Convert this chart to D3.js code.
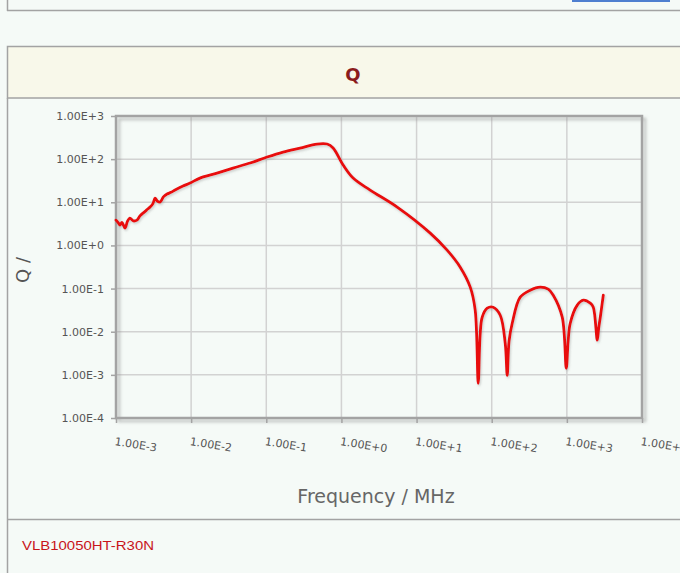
<!DOCTYPE html>
<html>
<head>
<meta charset="utf-8">
<script src="https://cdn.jsdelivr.net/npm/d3@7"></script>
<style>
    html, body { margin: 0; padding: 0; background: #f5faf7; }
    svg { display: block; }
</style>
</head>
<body>
<svg id="chart" width="680" height="573"></svg>
<script>
// Chart title, part name and axis titles
const chartTitle = "Q";
const partName = "VLB10050HT-R30N";
const xTitle = "Frequency / MHz";
const yTitle = "Q /";

// Decade ticks on both axes
const xTickValues = [1e-3, 1e-2, 1e-1, 1e0, 1e1, 1e2, 1e3, 1e4];
const xTickLabels = ["1.00E-3", "1.00E-2", "1.00E-1", "1.00E+0", "1.00E+1", "1.00E+2", "1.00E+3", "1.00E+4"];
const yTickValues = [1e3, 1e2, 1e1, 1e0, 1e-1, 1e-2, 1e-3, 1e-4];
const yTickLabels = ["1.00E+3", "1.00E+2", "1.00E+1", "1.00E+0", "1.00E-1", "1.00E-2", "1.00E-3", "1.00E-4"];

// Measured curve: frequency (MHz) and Q
const freq = [
    0.00100, 0.00108, 0.00113, 0.00120, 0.00132, 0.00142, 0.00153, 0.00170, 0.00190, 0.00210,
    0.00229, 0.00255, 0.00284, 0.00310, 0.00331, 0.00355, 0.00385, 0.00430, 0.00478, 0.00540,
    0.00611, 0.00780, 0.00967, 0.0131, 0.0221, 0.0361, 0.0609, 0.1025, 0.1675, 0.282,
    0.474, 0.645, 0.775, 1.054, 1.43, 2.41, 5.52, 15.2, 25.5, 38.1,
    51.8, 60.3, 66.1, 70.0, 74.7, 87.1, 104.7, 129.8, 151.3, 160.8, 170.0, 187.5,
    239.4, 326, 442, 565, 659, 868, 982, 1040, 1110, 1376, 1653,
    2050, 2249, 2541, 2650, 2786, 3055
];
const qValues = [
    3.86, 3.30, 2.96, 3.40, 2.52, 3.60, 4.30, 3.70, 3.86, 4.90,
    5.61, 6.60, 7.74, 9.30, 12.5, 10.6, 10.1, 13.5, 15.5, 17.0,
    19.2, 23.8, 27.9, 36.4, 47.6, 62.2, 81.3, 112, 146, 181,
    224, 224, 181, 73, 36.4, 19.2, 7.74, 1.93, 0.778, 0.314,
    0.108, 0.0315, 0.000638, 0.0080, 0.0217, 0.0351, 0.0370, 0.0241, 0.0054, 0.00098, 0.0060, 0.0157,
    0.0631, 0.0918, 0.108, 0.0968, 0.0703, 0.0217, 0.00142, 0.0060, 0.0157, 0.0412, 0.0538,
    0.0458, 0.0370, 0.00635, 0.0120, 0.0217, 0.0703
];

const svg = d3.select("#chart");

// Plot frame
const plot = { left: 116, top: 116, right: 642, bottom: 418 };

const x = d3.scaleLog().domain([1e-3, 1e4]).range([plot.left, plot.right]);
const y = d3.scaleLog().domain([1e-4, 1e3]).range([plot.bottom, plot.top]);

const borderColor = "#a3a3a3";
const font = "'DejaVu Sans', Verdana, sans-serif";

// Shadows
const defs = svg.append("defs");
defs.append("filter").attr("id", "frameShadow")
    .attr("x", "-5%").attr("y", "-5%").attr("width", "115%").attr("height", "115%")
    .append("feDropShadow")
    .attr("dx", 3).attr("dy", 3).attr("stdDeviation", 1.5)
    .attr("flood-color", "#888").attr("flood-opacity", 0.5);
defs.append("filter").attr("id", "lineShadow")
    .attr("x", "-5%").attr("y", "-5%").attr("width", "115%").attr("height", "115%")
    .append("feDropShadow")
    .attr("dx", 1).attr("dy", 1.5).attr("stdDeviation", 1)
    .attr("flood-color", "#777").attr("flood-opacity", 0.35);

// Page frame: previous panel, header band, chart panel, footer
svg.append("line").attr("x1", 7.5).attr("x2", 7.5).attr("y1", 0).attr("y2", 11)
    .attr("stroke", borderColor).attr("stroke-width", 1.5);
svg.append("line").attr("x1", 7).attr("x2", 680).attr("y1", 10.5).attr("y2", 10.5)
    .attr("stroke", borderColor).attr("stroke-width", 1.5);
svg.append("rect").attr("x", 572).attr("y", 0).attr("width", 98).attr("height", 2)
    .attr("fill", "#4f7fd0");

svg.append("rect").attr("x", 7.5).attr("y", 46.5).attr("width", 680).attr("height", 51.5)
    .attr("fill", "#f8f8ea").attr("stroke", borderColor).attr("stroke-width", 1.5);
svg.append("text").attr("x", 353).attr("y", 81)
    .attr("text-anchor", "middle").attr("font-family", font)
    .attr("font-size", 18).attr("font-weight", 600).attr("fill", "#8b1c1c")
    .text(chartTitle);

svg.append("line").attr("x1", 7.5).attr("x2", 7.5).attr("y1", 98).attr("y2", 573)
    .attr("stroke", borderColor).attr("stroke-width", 1.5);
svg.append("line").attr("x1", 7).attr("x2", 680).attr("y1", 519.5).attr("y2", 519.5)
    .attr("stroke", borderColor).attr("stroke-width", 1.5);
svg.append("text").attr("x", 22).attr("y", 550)
    .attr("font-family", "'Liberation Sans', Arial, sans-serif")
    .attr("font-size", 13.5).attr("fill", "#c8141a")
    .attr("textLength", 132).attr("lengthAdjust", "spacingAndGlyphs")
    .text(partName);

// Grid
const grid = svg.append("g");
grid.selectAll(".vgrid").data(xTickValues.slice(1, -1)).join("line")
    .attr("x1", d => x(d)).attr("x2", d => x(d))
    .attr("y1", plot.top).attr("y2", plot.bottom)
    .attr("stroke", "#d2d2d2").attr("stroke-width", 1.5);
grid.selectAll(".hgrid").data(yTickValues.slice(1, -1)).join("line")
    .attr("x1", plot.left).attr("x2", plot.right)
    .attr("y1", d => y(d)).attr("y2", d => y(d))
    .attr("stroke", "#d2d2d2").attr("stroke-width", 1.5);

// Frame with drop shadow
svg.append("rect")
    .attr("x", plot.left).attr("y", plot.top)
    .attr("width", plot.right - plot.left).attr("height", plot.bottom - plot.top)
    .attr("fill", "none").attr("stroke", borderColor).attr("stroke-width", 2.5)
    .attr("filter", "url(#frameShadow)");

// Axes
const yAxis = svg.append("g")
    .attr("transform", "translate(" + plot.left + ",0)")
    .call(d3.axisLeft(y).tickValues(yTickValues)
        .tickFormat((d, i) => yTickLabels[i]).tickSize(5).tickPadding(7));
yAxis.select(".domain").remove();
yAxis.selectAll(".tick line").attr("stroke", borderColor).attr("stroke-width", 1.5);
yAxis.selectAll(".tick text")
    .attr("font-family", font).attr("font-size", 11).attr("fill", "#555");

const xAxis = svg.append("g")
    .attr("transform", "translate(0," + plot.bottom + ")")
    .call(d3.axisBottom(x).tickValues(xTickValues)
        .tickFormat((d, i) => xTickLabels[i]).tickSize(5));
xAxis.select(".domain").remove();
xAxis.selectAll(".tick line").attr("stroke", borderColor).attr("stroke-width", 1.5);
xAxis.selectAll(".tick text")
    .attr("font-family", font).attr("font-size", 11).attr("fill", "#555")
    .attr("text-anchor", "start")
    .attr("x", 2).attr("y", 27).attr("dy", 0)
    .attr("transform", "rotate(9)");

// Axis titles
svg.append("text").attr("x", 376).attr("y", 503)
    .attr("text-anchor", "middle").attr("font-family", font)
    .attr("font-size", 19).attr("fill", "#666")
    .text(xTitle);
svg.append("text")
    .attr("transform", "translate(29,270) rotate(-90)")
    .attr("text-anchor", "middle").attr("font-family", font)
    .attr("font-size", 18).attr("fill", "#555")
    .text(yTitle);

// Q curve
const points = freq.map((f, i) => [f, qValues[i]]);
const line = d3.line()
    .x(d => x(d[0]))
    .y(d => y(d[1]))
    .curve(d3.curveCatmullRom.alpha(0.5));

svg.append("path")
    .datum(points)
    .attr("d", line)
    .attr("fill", "none")
    .attr("stroke", "#e8090e")
    .attr("stroke-width", 2.8)
    .attr("stroke-linejoin", "round")
    .attr("stroke-linecap", "round")
    .attr("filter", "url(#lineShadow)");
</script>
</body>
</html>
